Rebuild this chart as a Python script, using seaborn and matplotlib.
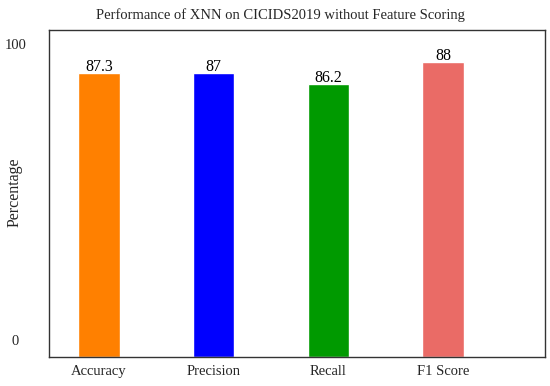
import numpy as np
import pandas as pd
import matplotlib
matplotlib.use("Agg")
import matplotlib.pyplot as plt
import seaborn as sns

# Data
metrics = ["Accuracy", "Precision", "Recall", "F1 Score"]
bar_heights = [90.2, 90.2, 86.5, 93.9]      # bar tops as drawn on the axis
bar_labels = ["87.3", "87", "86.2", "88"]   # numbers printed over the bars
bar_colors = ["#FF8000", "#0000FF", "#009A00", "#EA6B66"]
y_ticks = [0, 100]

sns.set_theme(style="white")
plt.rcParams["font.family"] = ["Liberation Serif", "DejaVu Serif"]

# bars start at the bottom edge of the axes, just below the 0 tick
y_low = -5.7
df = pd.DataFrame({"metric": metrics, "value": bar_heights})
df["span"] = df["value"] - y_low

fig = plt.figure(figsize=(5.5, 3.86), dpi=100)
ax = fig.add_axes([0.089, 0.076, 0.902, 0.846])

sns.barplot(data=df, x="metric", y="span", hue="metric", palette=bar_colors,
            width=0.36, legend=False, ax=ax, bottom=y_low, saturation=1)

for i, (v, lab) in enumerate(zip(bar_heights, bar_labels)):
    ax.text(i, v + 0.6, lab, ha="center", va="baseline", fontsize=11.5, color="black")

ax.set_xlim(-0.436, 3.89)
ax.set_ylim(y_low, 104.7)
ax.set_yticks(y_ticks)
ax.set_yticklabels([str(t) for t in y_ticks], ha="center")
ax.set_xlabel("")
ax.set_ylabel("Percentage", fontsize=11.5)
ax.yaxis.set_label_coords(-0.054, 0.505)
ax.tick_params(axis="y", length=0, pad=24, labelsize=10.5)
ax.tick_params(axis="x", length=0, pad=6, labelsize=10.5)
for s in ax.spines.values():
    s.set_color("#333333")
    s.set_linewidth(1.0)

fig.text(0.509, 0.962, "Performance of XNN on CICIDS2019 without Feature Scoring",
         ha="center", va="center", fontsize=10.5)

fig.savefig("out.png", dpi=100)
